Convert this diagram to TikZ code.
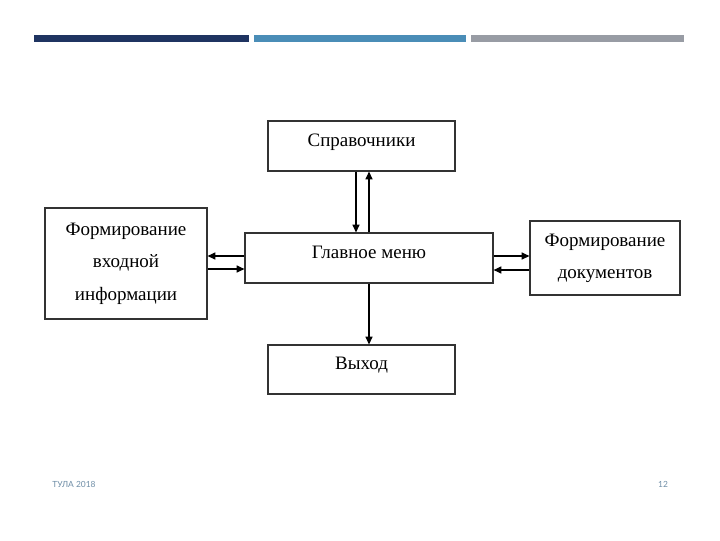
\documentclass[tikz,border=0pt]{standalone}
\usepackage{fontspec}
\setmainfont{Liberation Serif}
\newfontfamily\footfont{Lato}
\usetikzlibrary{arrows.meta}
\definecolor{barnavy}{HTML}{1F3461}
\definecolor{barblue}{HTML}{4A8DB7}
\definecolor{bargrey}{HTML}{989CA4}
\definecolor{foottext}{HTML}{6E8DA6}
\begin{document}
\begin{tikzpicture}[x=0.025cm,y=-0.025cm]
  \tikzset{menu box/.style={draw=black!80,line width=0.8pt,minimum width=#1,inner sep=0pt,
      align=center,font=\fontsize{13.5}{23}\selectfont},
    one line/.style={text height=0.4cm,text depth=0.4cm},
    arr/.style={line width=0.8pt,-{Triangle[length=5.5pt,width=5pt]}}}
  \useasboundingbox (0,0) rectangle (720,540);
  % top bars
  \fill[barnavy] (34,35) rectangle (249,42);
  \fill[barblue] (254,35) rectangle (466,42);
  \fill[bargrey] (471,35) rectangle (684,42);
  % boxes
  \node [menu box=4.675cm,one line,minimum height=1.25cm] (spr) at (361.5,146) {Справочники};
  \node [menu box=6.2cm,one line,minimum height=1.25cm] (menu) at (369,258) {Главное меню};
  \node [menu box=4.675cm,one line,minimum height=1.225cm] (exit) at (361.5,369.5) {Выход};
  \node [menu box=4.05cm,minimum height=2.775cm] (inp) at (126,263.5) {Формирование\\входной\\информации};
  \node [menu box=3.75cm,minimum height=1.85cm] (doc) at (605,258) {Формирование\\документов};
  % connectors
  \draw[arr] ([xshift=-0.325cm]menu.north |- spr.south) -- ([xshift=-0.325cm]menu.north);
  \draw[arr] (menu.north) -- (menu.north |- spr.south);
  \draw[arr] (menu.south) -- (menu.south |- exit.north);
  \draw[arr] ([yshift=0.05cm]menu.west) -- ([yshift=0.05cm]menu.west -| inp.east);
  \draw[arr] ([yshift=-0.275cm]menu.west -| inp.east) -- ([yshift=-0.275cm]menu.west);
  \draw[arr] ([yshift=0.05cm]menu.east) -- ([yshift=0.05cm]menu.east -| doc.west);
  \draw[arr] ([yshift=-0.3cm]menu.east -| doc.west) -- ([yshift=-0.3cm]menu.east);
  % footer
  \node[anchor=west,text=foottext,font=\footfont\fontsize{6}{7}\selectfont,inner sep=0pt] (city) at (52,484) {ТУЛА 2018};
  \node[text=foottext,font=\footfont\fontsize{6}{7}\selectfont,inner sep=0pt] (page) at (663,484) {12};
\end{tikzpicture}
\end{document}
